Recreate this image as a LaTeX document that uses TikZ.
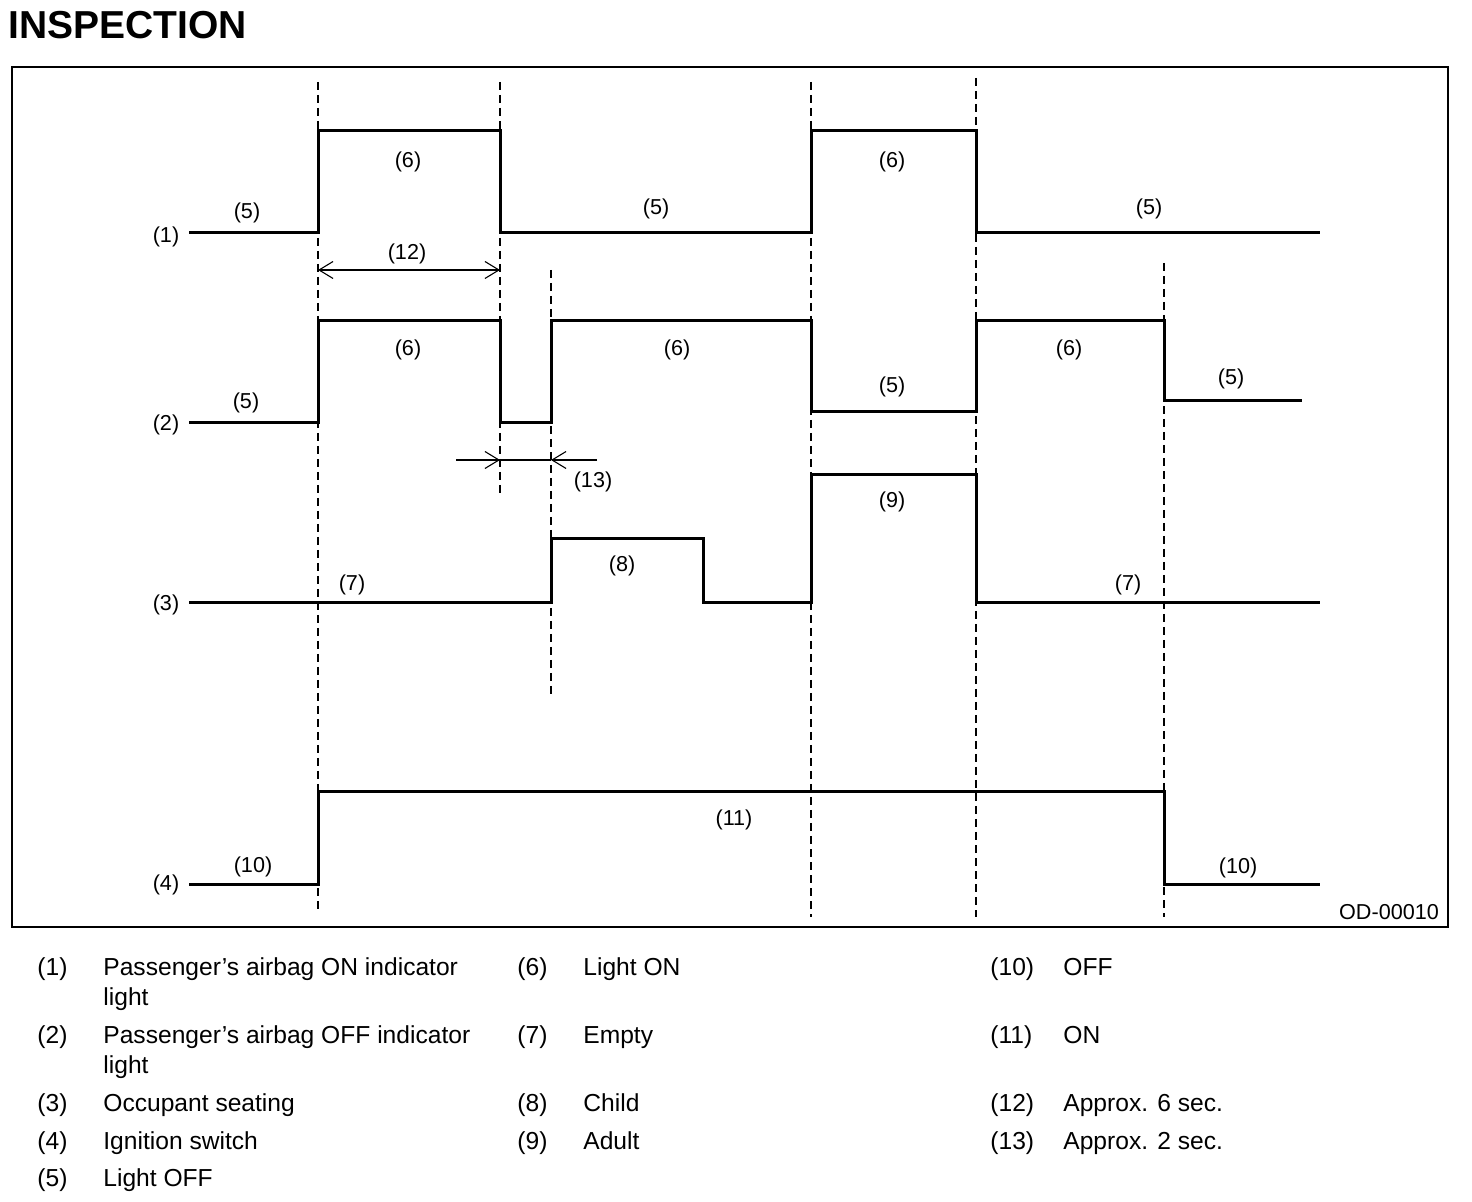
\documentclass[tikz,border=0pt]{standalone}
\usepackage{fontspec}
\setmainfont{Liberation Sans}
\usetikzlibrary{arrows.meta}
\begin{document}
\begin{tikzpicture}[x=0.5pt,y=-0.5pt,
  sig/.style={line width=1.5pt,line join=miter},
  guide/.style={line width=0.7pt,dash pattern=on 4pt off 2.5pt},
  dim/.style={line width=0.55pt},
  tip/.style={-{Straight Barb[length=7pt,width=8.5pt,line width=0.55pt]}},
  lab/.style={font=\fontsize{10.8}{12}\selectfont,inner sep=0pt,yshift=-1pt},
  leg/.style={font=\fontsize{12.3}{15}\selectfont,inner sep=0pt,anchor=base west},
  ttl/.style={font=\fontsize{19.5}{22}\selectfont\bfseries,inner sep=0pt,anchor=base west}]
\useasboundingbox (0,0) rectangle (1472,1202);
% title
\node[ttl] (title) at (8,39) {INSPECTION};
% frame
\draw[line width=1pt] (12,67) rectangle (1448,927);
% guide lines
\draw[guide] (318,82) -- (318,912);
\draw[guide] (500,82) -- (500,497);
\draw[guide] (551,270) -- (551,695);
\draw[guide] (811,82) -- (811,917);
\draw[guide] (976,78) -- (976,917);
\draw[guide] (1164,263) -- (1164,917);
% signal 1
\draw[sig] (189,233) -- (318,233) -- (318,131) -- (500,131) -- (500,233) -- (811,233) -- (811,131) -- (976,131) -- (976,233) -- (1320,233);
% signal 2
\draw[sig] (189,423) -- (318,423) -- (318,321) -- (500,321) -- (500,423) -- (551,423) -- (551,321) -- (811,321) -- (811,412) -- (976,412) -- (976,321) -- (1164,321) -- (1164,401) -- (1302,401);
% signal 3
\draw[sig] (189,603) -- (551,603) -- (551,539) -- (703,539) -- (703,603) -- (811,603) -- (811,475) -- (976,475) -- (976,603) -- (1320,603);
% signal 4
\draw[sig] (189,884) -- (318,884) -- (318,791) -- (1164,791) -- (1164,884) -- (1320,884);
% row labels
\node[lab] (r1) at (166,235) {(1)};
\node[lab] (r2) at (166,423) {(2)};
\node[lab] (r3) at (166,603) {(3)};
\node[lab] (r4) at (166,883) {(4)};
% state labels
\node[lab] (a1) at (247,211) {(5)};
\node[lab] (a2) at (408,160) {(6)};
\node[lab] (a3) at (656,207) {(5)};
\node[lab] (a4) at (892,160) {(6)};
\node[lab] (a5) at (1149,207) {(5)};
\node[lab] (b1) at (246,401) {(5)};
\node[lab] (b2) at (408,348) {(6)};
\node[lab] (b3) at (677,348) {(6)};
\node[lab] (b4) at (892,385) {(5)};
\node[lab] (b5) at (1069,348) {(6)};
\node[lab] (b6) at (1231,377) {(5)};
\node[lab] (c1) at (352,583) {(7)};
\node[lab] (c2) at (622,564) {(8)};
\node[lab] (c3) at (892,500) {(9)};
\node[lab] (c4) at (1128,583) {(7)};
\node[lab] (d1) at (253,865) {(10)};
\node[lab] (d2) at (734,818) {(11)};
\node[lab] (d3) at (1238,866) {(10)};
% dimension (12)
\coordinate (p12a) at (318,270);
\coordinate (p12b) at (500,270);
\draw[dim,{Straight Barb[length=7pt,width=8.5pt,line width=0.55pt]}-{Straight Barb[length=7pt,width=8.5pt,line width=0.55pt]}] (p12a) -- (p12b);
\node[lab] (n12) at (407,252) {(12)};
% dimension (13)
\coordinate (p13a) at (456,460);
\coordinate (p13b) at (500,460);
\coordinate (p13c) at (551,460);
\coordinate (p13d) at (597,460);
\draw[dim,tip] (p13a) -- (p13b);
\draw[dim] (p13b) -- (p13c);
\draw[dim,tip] (p13d) -- (p13c);
\node[lab] (n13) at (593,480) {(13)};
% figure code
\node[lab] (code) at (1389,910) {OD-00010};
% legend column 1
\node[leg] (k1) at (37,975) {(1)};
\node[leg] (t1) at (103,975) {Passenger’s airbag ON indicator};
\node[leg] (t1b) at (103,1005) {light};
\node[leg] (k2) at (37,1043) {(2)};
\node[leg] (t2) at (103,1043) {Passenger’s airbag OFF indicator};
\node[leg] (t2b) at (103,1073) {light};
\node[leg] (k3) at (37,1111) {(3)};
\node[leg] (t3) at (103,1111) {Occupant seating};
\node[leg] (k4) at (37,1149) {(4)};
\node[leg] (t4) at (103,1149) {Ignition switch};
\node[leg] (k5) at (37,1186) {(5)};
\node[leg] (t5) at (103,1186) {Light OFF};
% legend column 2
\node[leg] (k6) at (517,975) {(6)};
\node[leg] (t6) at (583,975) {Light ON};
\node[leg] (k7) at (517,1043) {(7)};
\node[leg] (t7) at (583,1043) {Empty};
\node[leg] (k8) at (517,1111) {(8)};
\node[leg] (t8) at (583,1111) {Child};
\node[leg] (k9) at (517,1149) {(9)};
\node[leg] (t9) at (583,1149) {Adult};
% legend column 3
\node[leg] (k10) at (990,975) {(10)};
\node[leg] (t10) at (1063,975) {OFF};
\node[leg] (k11) at (990,1043) {(11)};
\node[leg] (t11) at (1063,1043) {ON};
\node[leg] (k12) at (990,1111) {(12)};
\node[leg] (t12) at (1063,1111) {Approx. 6 sec.};
\node[leg] (k13) at (990,1149) {(13)};
\node[leg] (t13) at (1063,1149) {Approx. 2 sec.};
\end{tikzpicture}
\end{document}
